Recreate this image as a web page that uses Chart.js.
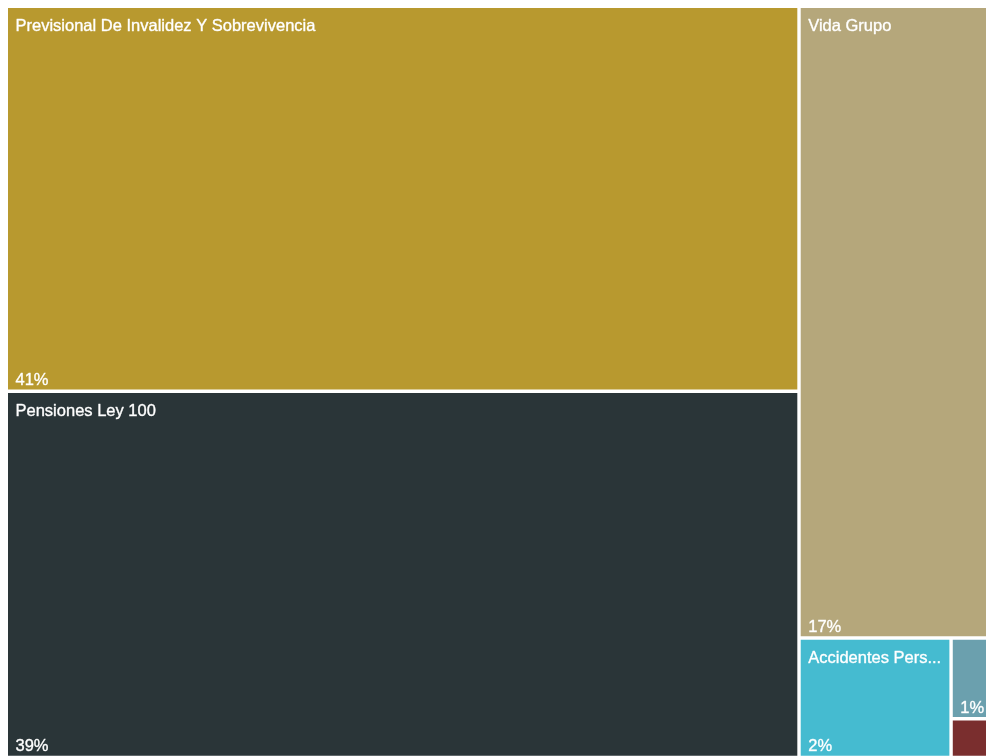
<!DOCTYPE html>
<html>
<head>
<meta charset="utf-8">
<title>Treemap</title>
<script src="https://cdn.jsdelivr.net/npm/chart.js@4/dist/chart.umd.min.js"></script>
<style>
  html, body { margin: 0; padding: 0; background: #ffffff; overflow: hidden; }
  canvas { display: block; }
</style>
</head>
<body>
<canvas id="chart" width="998" height="758"></canvas>
<script>
// Lines of business and their share of the total (percent)
const categories = [
  'Previsional De Invalidez Y Sobrevivencia',
  'Pensiones Ley 100',
  'Vida Grupo',
  'Accidentes Personales',
  'Salud',
  'Exequias'
];
const shares = [41, 39, 16.82, 2.44, 0.5, 0.24];
const colors = ['#B8992F', '#2A3538', '#B5A77B', '#45BBD0', '#6BA0AE', '#7A2E2E'];
const shareLabels = shares.map(v => Math.round(v) + '%');

const GAP = 3.4;           // white gutter between tiles
const FONT = '16.5px "Liberation Sans", Arial, sans-serif';

// Squarified layout (golden-ratio target, as in d3-hierarchy)
function squarify(values, x0, y0, x1, y1) {
  const ratio = (1 + Math.sqrt(5)) / 2;
  const n = values.length;
  const out = new Array(n);
  let value = values.reduce((a, b) => a + b, 0);
  let i0 = 0, i1 = 0;
  while (i0 < n) {
    const dx = x1 - x0, dy = y1 - y0;
    let sum = values[i1++];
    let minV = sum, maxV = sum;
    const alpha = Math.max(dy / dx, dx / dy) / (value * ratio);
    let beta = sum * sum * alpha;
    let minRatio = Math.max(maxV / beta, beta / minV);
    for (; i1 < n; ++i1) {
      const v = values[i1];
      sum += v;
      if (v < minV) minV = v;
      if (v > maxV) maxV = v;
      beta = sum * sum * alpha;
      const r = Math.max(maxV / beta, beta / minV);
      if (r > minRatio) { sum -= v; break; }
      minRatio = r;
    }
    if (dx < dy) {
      const h = dy * sum / value;
      let cx = x0;
      for (let i = i0; i < i1; i++) {
        const w = dx * values[i] / sum;
        out[i] = { x0: cx, y0: y0, x1: cx + w, y1: y0 + h };
        cx += w;
      }
      y0 += h;
    } else {
      const w = dx * sum / value;
      let cy = y0;
      for (let i = i0; i < i1; i++) {
        const h = dy * values[i] / sum;
        out[i] = { x0: x0, y0: cy, x1: x0 + w, y1: cy + h };
        cy += h;
      }
      x0 += w;
    }
    value -= sum;
    i0 = i1;
  }
  return out;
}

// Dataset controller that lays tiles out on the x/y scales and draws them as bar elements
class TreemapController extends Chart.DatasetController {
  update(mode) {
    const meta = this._cachedMeta;
    this.updateElements(meta.data, 0, meta.data.length, mode);
  }
  updateElements(rects, start, count, mode) {
    const meta = this._cachedMeta;
    const xScale = meta.xScale, yScale = meta.yScale;
    const values = this.getDataset().data.map(Number);
    const xa = xScale.getPixelForValue(xScale.min), xb = xScale.getPixelForValue(xScale.max);
    const ya = yScale.getPixelForValue(yScale.min), yb = yScale.getPixelForValue(yScale.max);
    const tiles = squarify(values, Math.min(xa, xb), Math.min(ya, yb), Math.max(xa, xb), Math.max(ya, yb));
    for (let i = start; i < start + count; i++) {
      const t = tiles[i];
      this.updateElement(rects[i], i, {
        x: (t.x0 + t.x1) / 2,
        width: Math.max(0, t.x1 - t.x0 - GAP),
        y: t.y0 + GAP / 2,
        base: t.y1 - GAP / 2,
        horizontal: false,
        inflateAmount: 0,
        enableBorderRadius: false,
        borderSkipped: { top: false, bottom: false, left: false, right: false },
        options: this.resolveDataElementOptions(i, mode)
      }, mode);
    }
  }
}
TreemapController.id = 'treemap';
TreemapController.defaults = { datasetElementType: false, dataElementType: 'bar' };
Chart.register(TreemapController);

// Tile captions: name at the top-left, share at the bottom-left
function fitText(ctx, text, maxW) {
  if (ctx.measureText(text).width <= maxW) return text;
  let s = text;
  while (s.length > 0 && ctx.measureText(s + '...').width > maxW) s = s.slice(0, -1);
  return s.length ? s.trimEnd() + '...' : '';
}
function drawCaption(ctx, text, x, y) {
  ctx.strokeText(text, x, y);
  ctx.fillText(text, x, y);
}
const tileLabels = {
  id: 'tileLabels',
  afterDatasetsDraw(chart) {
    const ctx = chart.ctx;
    const meta = chart.getDatasetMeta(0);
    ctx.save();
    ctx.font = FONT;
    ctx.fillStyle = '#ffffff';
    ctx.strokeStyle = 'rgba(255,255,255,0.8)';
    ctx.lineWidth = 0.45;
    ctx.lineJoin = 'round';
    ctx.textBaseline = 'alphabetic';
    ctx.textAlign = 'left';
    meta.data.forEach((el, i) => {
      const p = el.getProps(['x', 'y', 'base', 'width'], true);
      const l = p.x - p.width / 2, w = p.width;
      const t = Math.min(p.y, p.base), b = Math.max(p.y, p.base), h = b - t;
      if (h < 40) return;
      if (w >= 60) {
        const name = fitText(ctx, categories[i], w - 8);
        if (name) drawCaption(ctx, name, l + 7.5, t + 23);
      }
      const pct = shareLabels[i];
      if (ctx.measureText(pct).width + 8 <= w) drawCaption(ctx, pct, l + 7.5, b - 4.5);
    });
    ctx.restore();
  }
};

new Chart(document.getElementById('chart'), {
  type: 'treemap',
  data: {
    labels: categories,
    datasets: [{
      data: shares,
      backgroundColor: colors,
      borderWidth: 0
    }]
  },
  options: {
    responsive: false,
    animation: false,
    events: [],
    layout: { padding: { left: 6.3, top: 6.3, right: 0.8, bottom: 0.5 } },
    scales: {
      x: { type: 'linear', min: 0, max: 1, display: false },
      y: { type: 'linear', min: 0, max: 1, display: false, reverse: true }
    },
    plugins: { legend: { display: false }, tooltip: { enabled: false } }
  },
  plugins: [tileLabels]
});
</script>
</body>
</html>
